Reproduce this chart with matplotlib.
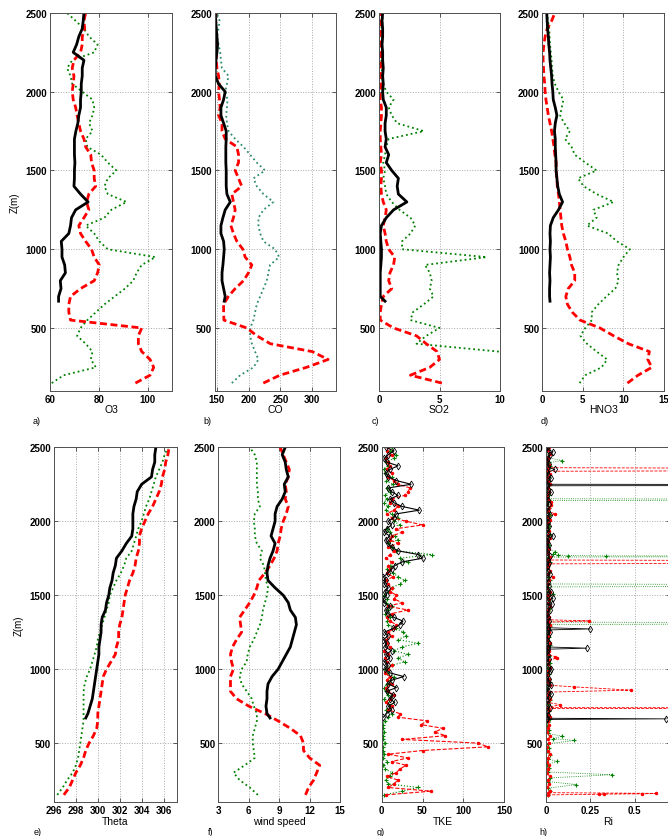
import matplotlib.pyplot as plt
import numpy as np

plt.rcParams['font.family'] = ['Liberation Sans', 'DejaVu Sans']
nan = np.nan

# sampling heights (m)
z_prof = np.arange(150, 2501, 50)                       # red / green profiles
z_prof_k = np.array([670] + list(range(700, 2501, 50)))  # black profile
z_turb = np.arange(150, 2501, 25)
z_turb_k = np.arange(675, 2501, 25)

# ---- O3
o3_k = [63.5, 63.5, 64.5, 64.2, 66.3, 66.0, 64.9, 64.9, 64.6, 67.7,
        68.4, 68.8, 70.5, 75.6, 72.5, 69.8, 70.0, 70.0, 70.2, 70.0,
        70.0, 70.0, 70.6, 71.4, 71.8, 72.5, 72.5, 72.8, 72.8, 73.2,
        73.2, 73.9, 69.5, 70.9, 71.8, 73.2, 73.6, 73.9]
o3_r = [95.0, 101.0, 102.5, 101.0, 97.6, 96.2, 96.2, 97.6, 68.4, 67.7,
        67.7, 68.4, 72.5, 78.1, 79.5, 80.2, 78.1, 77.0, 74.6, 72.5,
        71.8, 73.9, 75.9, 75.0, 75.9, 78.7, 78.1, 78.1, 77.0, 76.7,
        74.6, 73.9, 72.5, 71.8, 71.1, 70.5, 69.5, 69.1, 69.5, 69.8,
        69.1, 69.8, 72.5, 73.2, 73.2, 74.2, 73.9, 74.6]
o3_g = [60.7, 65.6, 78.8, 76.7, 77.4, 74.6, 71.1, 72.5, 75.3, 78.8,
        82.3, 86.5, 90.7, 94.1, 95.5, 97.6, 103.2, 83.7, 80.2, 78.1,
        74.6, 82.3, 85.1, 91.4, 83.7, 82.3, 83.7, 87.2, 83.7, 80.9,
        75.3, 74.6, 77.4, 76.0, 77.4, 78.1, 77.4, 73.2, 69.1, 68.4,
        67.0, 69.1, 78.1, 79.5, 76.0, 73.9, 70.5, 67.0]

# ---- CO
co_k = [161.5, 163.0, 160.5, 158.0, 158.0, 159.4, 160.5, 161.5, 160.5, 156.3,
        156.3, 159.4, 163.0, 171.0, 165.7, 164.6, 164.6, 164.6, 164.0, 164.0,
        164.0, 164.6, 164.6, 160.5, 156.3, 156.3, 160.5, 163.0, 152.6, 147.4,
        147.4, 148.4, 150.0, 151.0, 150.0, 149.0, 148.0, 147.4]
co_r = [223.0, 249.0, 291.0, 325.0, 300.0, 234.0, 213.0, 197.0, 161.0, 160.5,
        160.5, 168.0, 178.7, 191.8, 199.6, 204.9, 194.4, 190.8, 181.4, 176.0,
        172.0, 176.0, 178.7, 176.0, 173.5, 189.0, 184.0, 178.7, 184.0, 184.0,
        181.4, 163.0, 158.0, 158.0, 152.6, 155.0, 154.0, 152.6, 153.7, 152.6,
        150.0, 149.0, 149.0, 148.0, 147.5, 147.5, 148.0, 148.0]
co_g = [173.5, 186.6, 207.5, 215.3, 210.0, 205.0, 202.3, 202.3, 207.5, 210.0,
        212.7, 218.0, 223.2, 228.4, 231.0, 233.6, 248.0, 241.5, 223.2, 218.0,
        215.3, 215.3, 223.2, 238.9, 223.2, 212.7, 207.5, 225.8, 212.7, 202.3,
        191.8, 178.7, 168.3, 165.7, 164.6, 165.7, 166.7, 163.0, 165.7, 168.3,
        157.8, 156.3, 155.2, 152.6, 150.0, 152.6, 154.2, 150.0]

# ---- SO2
so2_k = [0.5, 0.1, 0.1, 0.1, 0.1, 0.15, 0.2, 0.2, 0.15, 0.1,
         0.2, 0.6, 1.2, 2.3, 1.6, 1.5, 1.6, 1.05, 0.6, 0.8,
         0.5, 0.6, 0.5, 0.5, 0.6, 0.6, 0.35, 0.3, 0.35, 0.3,
         0.35, 0.3, 0.3, 0.25, 0.3, 0.3, 0.25, 0.3]
so2_r = [5.2, 2.6, 4.2, 5.0, 4.8, 3.9, 3.1, 1.2, 0.1, 0.1,
         0.2, 0.35, 1.05, 0.8, 0.9, 1.2, 1.3, 0.8, 0.6, 0.5,
         0.35, 0.5, 0.6, 0.35, 0.2, 0.15, 0.2, 0.2, 0.1, 0.2,
         0.15, 0.1, 0.1, 0.15, 0.2, 0.2, 0.1, 0.1, 0.15, 0.1,
         0.15, 0.1, 0.2, 0.15, 0.1, 0.15, 0.2, 0.15]
so2_g = [nan, nan, nan, nan, 9.9, 3.1, 3.9, 5.0, 2.6, 2.8,
         3.7, 4.5, 4.2, 4.35, 4.2, 3.8, 8.9, 1.9, 1.9, 2.6,
         3.0, 2.6, 1.7, 1.05, 0.6, 0.5, 0.35, 0.5, 0.35, 0.5,
         0.6, 0.8, 3.7, 1.5, 1.05, 0.8, 1.2, 0.6, 0.35, 0.2,
         0.25, 0.2, 0.3, 0.2, 0.25, 0.2, 0.3, 0.25]

# ---- HNO3
hno3_k = [0.95, 0.9, 0.9, 0.95, 0.9, 0.95, 1.0, 0.95, 1.0, 0.95,
          1.0, 1.35, 2.0, 2.5, 2.1, 1.9, 1.8, 1.7, 1.7, 1.65,
          1.6, 1.6, 1.5, 1.6, 1.8, 1.6, 1.35, 1.3, 1.2, 1.15,
          1.05, 0.95, 0.9, 0.8, 0.75, 0.65, 0.6, 0.55]
hno3_r = [10.5, 11.8, 13.5, 13.0, 13.2, 10.6, 8.8, 7.1, 4.65, 3.7,
          3.1, 2.9, 3.2, 4.0, 4.0, 3.6, 3.4, 3.1, 2.9, 2.6,
          2.4, 2.3, 2.2, 2.1, 2.0, 1.85, 1.8, 1.7, 1.7, 1.55,
          1.45, 1.3, 1.15, 0.95, 0.75, 0.6, 0.45, 0.35, 0.3, 0.2,
          0.15, 0.1, 0.1, 0.2, 0.35, 0.6, 1.15, 1.55]
hno3_g = [4.6, 5.3, 7.3, 8.0, 6.7, 5.5, 4.7, 5.3, 6.1, 6.1,
          6.9, 7.9, 9.0, 9.4, 9.2, 9.4, 10.0, 10.8, 9.2, 8.1,
          5.5, 6.7, 6.3, 8.8, 6.7, 5.1, 4.4, 6.7, 5.3, 4.0,
          3.6, 2.8, 3.4, 2.7, 2.2, 2.4, 2.6, 2.0, 1.55, 1.3,
          1.2, 1.15, 1.05, 0.95, 0.9, 0.85, 0.7, 0.6]

# ---- potential temperature
th_k = [298.9, 299.1, 299.3, 299.5, 299.6, 299.7, 299.8, 299.9, 300.0, 300.1,
        300.1, 300.2, 300.3, 300.3, 300.4, 300.7, 300.8, 301.0, 301.1, 301.3,
        301.4, 301.6, 301.7, 302.2, 302.6, 303.1, 303.2, 303.2, 303.2, 303.3,
        303.5, 303.6, 304.0, 304.9, 305.0, 305.2, 305.2, 305.3]
th_r = [296.9, 297.4, 297.7, 298.0, 298.4, 298.7, 298.9, 299.2, 299.6, 299.9,
        300.0, 300.0, 300.1, 300.2, 300.3, 300.4, 300.5, 300.8, 301.2, 301.6,
        301.7, 301.9, 301.9, 302.0, 302.2, 302.3, 302.4, 302.5, 302.7, 302.9,
        303.2, 303.4, 303.5, 303.7, 303.8, 303.8, 304.0, 304.3, 304.6, 305.0,
        305.3, 305.6, 305.8, 305.9, 306.1, 306.2, 306.4, 306.5]
th_g = [296.3, 296.8, 297.2, 297.7, 298.0, 298.2, 298.3, 298.4, 298.5, 298.6,
        298.7, 298.7, 298.7, 298.7, 298.7, 298.8, 299.0, 299.3, 299.5, 299.7,
        299.9, 300.0, 300.2, 300.4, 300.6, 300.8, 301.0, 301.1, 301.4, 301.7,
        302.1, 302.4, 302.6, 303.1, 303.3, 303.5, 303.7, 304.0, 304.2, 304.4,
        304.7, 304.9, 305.1, 305.3, 305.6, 305.9, 306.1, 306.4]

# ---- wind speed
ws_k = [8.1, 7.8, 7.7, 7.8, 7.8, 7.9, 8.3, 8.9, 9.3, 9.7,
        10.1, 10.3, 10.5, 10.7, 10.6, 10.1, 9.9, 9.4, 8.6, 7.9,
        7.8, 7.9, 8.1, 8.4, 8.6, 8.2, 8.4, 8.6, 8.6, 8.8,
        9.3, 9.6, 9.5, 9.9, 9.7, 9.6, 9.3, 9.6]
ws_r = [11.6, 11.9, 12.4, 12.7, 13.0, 12.0, 11.4, 11.4, 11.1, 10.1,
        8.9, 7.6, 6.0, 4.8, 4.2, 4.2, 4.2, 4.5, 4.3, 4.2,
        4.4, 4.8, 5.3, 5.2, 5.1, 5.6, 6.1, 6.5, 6.8, 7.0,
        7.6, 8.1, 8.5, 8.8, 8.9, 9.1, 9.2, 9.4, 9.7, 9.9,
        9.6, 9.7, 9.6, 9.9, 10.0, 9.7, 9.4, 9.1]
ws_g = [6.9, 6.1, 5.1, 4.5, 5.6, 6.6, 6.5, 6.4, 6.4, 6.6,
        6.8, 6.8, 6.5, 6.3, 5.8, 5.3, 5.1, 5.3, 5.8, 5.9,
        6.1, 6.5, 6.8, 7.1, 7.3, 7.4, 7.6, 7.8, 7.9, 7.7,
        7.6, 7.5, 7.1, 7.3, 6.8, 6.6, 6.6, 6.5, 6.6, 7.1,
        6.9, 6.9, 6.8, 6.8, 6.8, 6.8, 6.6, 6.1]

# ---- turbulent kinetic energy
tke_k = [2, 6, 12, 8, 16, 10, 14, 6, 18, 8,
         12, 27, 10, 4, 8, 3, 10, 5, 12, 4,
         6, 2, 8, 3, 14, 22, 26, 15, 8, 5,
         10, 3, 2, 6, 4, 8, 3, 5, 2, 8,
         12, 16, 25, 50, 45, 20, 12, 8, 5, 10,
         3, 6, 12, 8, 15, 18, 46, 25, 15, 10,
         20, 12, 8, 36, 18, 8, 5, 10, 20, 6,
         3, 8, 15, 5]
tke_r = [5, 60, 8, 15, 20, 6, 18, 22, 30, 12,
         32, 8, 50, 130, 118, 25, 78, 65, 75, 48,
         56, 20, 22, 8, 12, 5, 10, 15, 8, 5,
         12, 6, 10, 4, 8, 12, 6, 4, 8, 3,
         10, 6, 5, 12, 8, 15, 18, 10, 6, 12,
         32, 8, 25, 15, 18, 10, 12, 8, 5, 14,
         6, 10, 8, 12, 5, 10, 15, 8, 20, 10,
         12, 25, 18, 50, 30, 12, 6, 15, 20, 10,
         12, 28, 32, 35, 20, 15, 8, 12, 6, 10,
         8, 5, 12, 6, 8]
tke_g = [3, 25, 44, 8, 5, 10, 13, 4, 2, 7,
         2, 3, 1, 2, 4, 2, 1, 3, 2, 1,
         4, 8, 12, 5, 10, 6, 3, 8, 5, 3,
         6, 10, 15, 6, 4, 12, 28, 20, 32, 15,
         25, 44, 20, 30, 26, 18, 8, 6, 10, 4,
         8, 12, 5, 6, 3, 8, 12, 22, 28, 20,
         14, 6, 10, 32, 22, 61, 18, 12, 8, 20,
         16, 10, 6, 22, 15, 20, 12, 5, 8, 3,
         6, 4, 10, 6, 14, 5, 12, 4, 3, 8,
         5, 15, 18, 10, 12]

# ---- Richardson number (irregular heights)
ri_k_z = [660, 664, 668, 690, 715, 740, 765, 790, 815, 830, 850, 875, 890, 910,
          935, 960, 985, 1000, 1020, 1045, 1070, 1095, 1120, 1135, 1142, 1150,
          1175, 1200, 1225, 1250, 1265, 1272, 1280, 1300, 1325, 1350, 1375, 1400,
          1425, 1440, 1460, 1480, 1500, 1520, 1540, 1565, 1590, 1615, 1640, 1665,
          1690, 1715, 1740, 1765, 1790, 1815, 1840, 1865, 1885, 1900, 1920, 1945,
          1970, 1995, 2020, 2045, 2070, 2095, 2120, 2145, 2170, 2195, 2215, 2240,
          2245, 2250, 2270, 2290, 2310, 2330, 2350, 2365, 2385, 2405, 2425, 2445,
          2470, 2485, 2500]
ri_k = [0.005, 0.68, 0.005, 0.01, 0.005, 0.02, 0.01, 0.005, 0.015, 0.03, 0.01, 0.005, 0.03, 0.01,
        0.015, 0.005, 0.02, 0.03, 0.01, 0.005, 0.015, 0.01, 0.005, 0.01, 0.23, 0.01,
        0.015, 0.005, 0.01, 0.02, 0.01, 0.25, 0.01, 0.005, 0.015, 0.01, 0.005, 0.02,
        0.01, 0.035, 0.01, 0.04, 0.01, 0.03, 0.005, 0.015, 0.01, 0.005, 0.02, 0.01,
        0.005, 0.015, 0.01, 0.02, 0.005, 0.01, 0.015, 0.005, 0.01, 0.04, 0.01, 0.005,
        0.015, 0.01, 0.005, 0.02, 0.01, 0.005, 0.015, 0.01, 0.005, 0.03, 0.01, 0.005,
        5.0, 0.005, 0.01, 0.03, 0.01, 0.005, 0.05, 0.01, 0.015, 0.005, 0.01, 0.02,
        0.04, 0.01, 0.005]
ri_r_z = [150, 154, 155, 157, 160, 165, 175, 200, 225, 250, 275, 300, 325, 350,
          375, 400, 425, 450, 475, 500, 525, 550, 575, 600, 625, 650, 675, 700,
          725, 734, 737, 740, 760, 775, 800, 825, 845, 858, 880, 891, 910, 935,
          960, 985, 1010, 1035, 1060, 1075, 1085, 1100, 1125, 1150, 1175, 1200,
          1225, 1250, 1275, 1300, 1318, 1326, 1334, 1350, 1375, 1400, 1425, 1450,
          1475, 1500, 1525, 1550, 1575, 1600, 1620, 1640, 1665, 1690, 1712, 1725,
          1738, 1760, 1785, 1810, 1835, 1860, 1885, 1910, 1935, 1960, 1985, 2010,
          2030, 2050, 2070, 2090, 2110, 2130, 2150, 2175, 2200, 2225, 2250, 2275,
          2300, 2320, 2338, 2350, 2362, 2380, 2405, 2430, 2455, 2480, 2500]
ri_r = [0.01, 0.30, 0.33, 0.54, 0.62, 0.01, 0.02, 0.005, 0.015, 0.01, 0.02, 0.005, 0.01, 0.015,
        0.005, 0.01, 0.02, 0.01, 0.005, 0.015, 0.01, 0.02, 0.005, 0.01, 0.015, 0.01, 0.02, 0.01,
        0.015, 0.01, 4.0, 0.01, 0.08, 0.01, 0.02, 0.01, 0.015, 0.48, 0.16, 0.02, 0.01, 0.015,
        0.005, 0.01, 0.02, 0.01, 0.015, 0.06, 0.05, 0.01, 0.015, 0.01, 0.02, 0.005,
        0.01, 0.015, 0.01, 0.02, 0.01, 0.24, 0.01, 0.015, 0.005, 0.01, 0.02, 0.01,
        0.015, 0.01, 0.02, 0.005, 0.01, 0.015, 0.04, 0.01, 0.02, 0.01, 0.015, 4.0,
        0.01, 0.02, 0.01, 0.015, 0.005, 0.01, 0.02, 0.01, 0.015, 0.005, 0.01, 0.02,
        0.01, 0.05, 0.01, 0.015, 0.03, 0.03, 0.01, 0.005, 0.015, 0.01, 0.02, 0.01,
        0.005, 0.02, 0.01, 4.0, 0.01, 0.015, 0.005, 0.01, 0.02, 0.01, 0.015]
ri_g_z = [150, 175, 195, 220, 240, 265, 286, 305, 330, 355, 376, 395, 420, 445,
          470, 495, 518, 530, 547, 565, 590, 615, 640, 665, 690, 715, 740, 765,
          790, 815, 840, 865, 890, 915, 940, 965, 990, 1015, 1040, 1065, 1090,
          1115, 1140, 1165, 1190, 1215, 1240, 1265, 1290, 1302, 1310, 1318, 1340,
          1365, 1390, 1415, 1440, 1465, 1490, 1510, 1530, 1556, 1566, 1576, 1600,
          1625, 1650, 1675, 1700, 1725, 1745, 1758, 1764, 1766, 1768, 1772, 1780,
          1795, 1815, 1840, 1865, 1890, 1915, 1940, 1965, 1990, 2015, 2040, 2065,
          2090, 2115, 2140, 2146, 2152, 2175, 2200, 2225, 2250, 2275, 2300, 2325,
          2350, 2375, 2395, 2410, 2430, 2455, 2480, 2500]
ri_g = [0.01, 0.02, 0.01, 0.17, 0.01, 0.02, 0.37, 0.01, 0.015, 0.005, 0.06, 0.01, 0.02, 0.005,
        0.015, 0.01, 0.16, 0.04, 0.09, 0.01, 0.015, 0.005, 0.01, 0.02, 0.01, 0.015, 0.005, 0.01,
        0.02, 0.01, 0.015, 0.005, 0.01, 0.02, 0.01, 0.015, 0.005, 0.01, 0.02, 0.01, 0.015,
        0.005, 0.01, 0.02, 0.01, 0.015, 0.005, 0.01, 0.02, 0.01, 3.0, 0.01, 0.015,
        0.005, 0.01, 0.02, 0.01, 0.015, 0.005, 0.04, 0.01, 0.01, 3.0, 0.01, 0.02,
        0.01, 0.015, 0.005, 0.01, 0.02, 0.01, 0.01, 3.0, 0.34, 0.125, 0.07, 0.04,
        0.05, 0.01, 0.015, 0.005, 0.01, 0.02, 0.01, 0.015, 0.005, 0.01, 0.02, 0.01,
        0.015, 0.005, 0.01, 3.0, 0.01, 0.015, 0.005, 0.01, 0.02, 0.01, 0.015, 0.005,
        0.01, 0.02, 0.01, 0.09, 0.01, 0.015, 0.005, 0.01]

GREEN = '#008000'
Z_TICKS = [500, 1000, 1500, 2000, 2500]

fig = plt.figure(figsize=(6.68, 8.37), dpi=100)
fig.patch.set_facecolor('white')

# axes rectangles [left, bottom, width, height] in figure fractions
top_b, top_h = 0.5317, 0.4516
bot_b, bot_h = 0.0403, 0.4241
rects = [
    [0.0749, top_b, 0.1826, top_h], [0.3219, top_b, 0.1807, top_h],
    [0.5674, top_b, 0.1811, top_h], [0.8118, top_b, 0.1822, top_h],
    [0.0808, bot_b, 0.1837, bot_h], [0.3268, bot_b, 0.1822, bot_h],
    [0.5714, bot_b, 0.1835, bot_h], [0.8174, bot_b, 0.1855, bot_h],
]
axs = [fig.add_axes(r) for r in rects]


def frame(ax, xlim, xticks, xlabel, xticklabels=None):
    ax.set_xlim(xlim)
    ax.set_ylim(100, 2500)
    ax.set_xticks(xticks)
    if xticklabels is not None:
        ax.set_xticklabels(xticklabels)
    ax.set_yticks(Z_TICKS)
    ax.grid(True, linestyle=':', color='#a8a8a8', linewidth=0.7)
    ax.set_axisbelow(True)
    ax.tick_params(direction='in', top=True, right=True, length=3, width=0.6,
                   labelsize=7, pad=2, color='#404040')
    for lab in ax.get_xticklabels() + ax.get_yticklabels():
        lab.set_fontweight('bold')
    for s in ax.spines.values():
        s.set_color('#505050')
        s.set_linewidth(0.7)
    ax.set_xlabel(xlabel, fontsize=7.5, labelpad=0.5)


def profile(ax, xk, xr, xg, gcol=GREEN):
    ax.plot(xg, z_prof, ':', color=gcol, lw=1.3)
    ax.plot(xr, z_prof, '--', color='red', lw=2.0, dashes=(2.5, 1.3))
    ax.plot(xk, z_prof_k, '-', color='black', lw=2.0)


def scatter_profile(ax, zk, xk, zr, xr, zg, xg, lw=0.8):
    ax.plot(xg, zg, ':', color=GREEN, lw=lw, marker='+', ms=3.5, mew=0.8)
    ax.plot(xr, zr, '--', color='red', lw=lw, marker='.', ms=3)
    ax.plot(xk, zk, '-', color='black', lw=lw, marker='d', ms=3.5,
            mfc='none', mec='black', mew=0.6)


profile(axs[0], o3_k, o3_r, o3_g)
frame(axs[0], (60, 110), [60, 80, 100], 'O3')

profile(axs[1], co_k, co_r, co_g, gcol='#2e8b6e')
frame(axs[1], (147, 337), [150, 200, 250, 300], 'CO')

profile(axs[2], so2_k, so2_r, so2_g)
frame(axs[2], (0, 10), [0, 5, 10], 'SO2')

profile(axs[3], hno3_k, hno3_r, hno3_g)
frame(axs[3], (0, 15), [0, 5, 10, 15], 'HNO3')

profile(axs[4], th_k, th_r, th_g)
frame(axs[4], (296, 307.2), [296, 298, 300, 302, 304, 306], 'Theta')

profile(axs[5], ws_k, ws_r, ws_g)
frame(axs[5], (3, 15), [3, 6, 9, 12, 15], 'wind speed')

scatter_profile(axs[6], z_turb_k, tke_k, z_turb, tke_r, z_turb, tke_g)
frame(axs[6], (0, 150), [0, 50, 100, 150], 'TKE')

scatter_profile(axs[7], ri_k_z, ri_k, ri_r_z, ri_r, ri_g_z, ri_g, lw=0.6)
frame(axs[7], (0, 0.7), [0, 0.25, 0.5], 'Ri', ['0', '0.25', '0.5'])

axs[0].set_ylabel('Z(m)', fontsize=7, labelpad=4)
axs[4].set_ylabel('Z(m)', fontsize=7, labelpad=4)

# panel letters
for txt, x, y in [('a)', 33, 422), ('b)', 203, 422), ('c)', 372, 422), ('d)', 541, 422),
                  ('e)', 34, 833), ('f)', 208, 833), ('g)', 377, 833), ('h)', 539, 833)]:
    fig.text(x / 668, 1 - y / 837, txt, fontsize=6.5, va='center', ha='left')

fig.savefig('out.png', dpi=100, facecolor='white')
